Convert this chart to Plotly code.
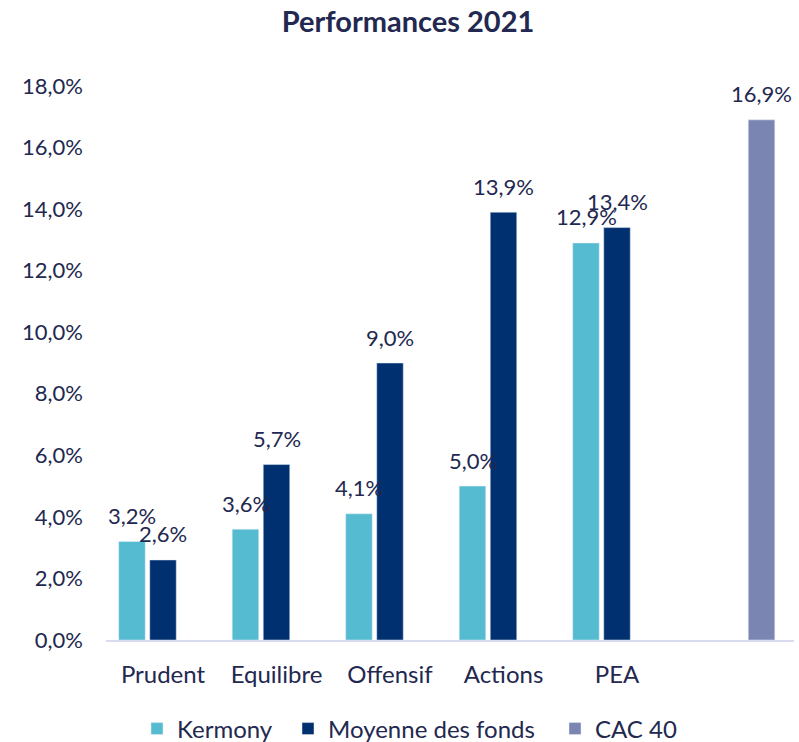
import plotly.graph_objects as go

categories = ["Prudent", "Equilibre", "Offensif", "Actions", "PEA", " "]
kermony = [3.2, 3.6, 4.1, 5.0, 12.9, None]
moyenne = [2.6, 5.7, 9.0, 13.9, 13.4, None]
cac40 = [None, None, None, None, None, 16.9]
y_ticks = [0, 2, 4, 6, 8, 10, 12, 14, 16, 18]

TXT = "#22284F"
FONT = "Lato"


def fmt(v):
    return f"{v:.1f}".replace(".", ",") + "%"


fig = go.Figure()
fig.add_trace(go.Bar(name="Kermony", x=categories, y=kermony, marker_color="#55BBD1",
                     legend="legend"))
fig.add_trace(go.Bar(name="Moyenne des fonds", x=categories, y=moyenne, marker_color="#00306F",
                     legend="legend2"))
fig.add_trace(go.Bar(name="CAC 40", x=categories, y=cac40, marker_color="#7A85B2",
                     legend="legend3"))

for series, shift in ((kermony, -31), (moyenne, 0), (cac40, 31)):
    for c, v in zip(categories, series):
        if v is None:
            continue
        fig.add_annotation(x=c, y=v, text=fmt(v), showarrow=False, xshift=shift,
                           yanchor="middle", yshift=26,
                           font=dict(family=FONT, size=22, color=TXT))

leg_common = dict(orientation="h", xref="container", yref="container",
                  xanchor="left", y=1 - 729 / 742, yanchor="middle",
                  font=dict(family=FONT, size=24, color=TXT), itemwidth=30,
                  bgcolor="rgba(0,0,0,0)")

fig.update_layout(
    width=799, height=742,
    margin=dict(l=106, r=5, t=86, b=102, autoexpand=False),
    paper_bgcolor="white", plot_bgcolor="white",
    barmode="group", bargap=0.18, bargroupgap=0.145,
    title=dict(text="<b>Performances 2021</b>", x=408 / 799, xanchor="center",
               y=1 - 22 / 742, yanchor="middle",
               font=dict(family=FONT, size=29, color=TXT)),
    font=dict(family=FONT, size=22, color=TXT),
    showlegend=True,
    legend=dict(leg_common, x=137 / 799),
    legend2=dict(leg_common, x=288 / 799),
    legend3=dict(leg_common, x=555 / 799),
    xaxis=dict(showline=True, linecolor="#D9DBEE", linewidth=2, ticks="",
               showgrid=False, ticklabelstandoff=12, automargin=False,
               tickfont=dict(family=FONT, size=24, color=TXT)),
    yaxis=dict(range=[0, 18], tickvals=y_ticks, ticktext=[fmt(t) for t in y_ticks],
               showgrid=False, zeroline=False, showline=False, ticks="",
               ticklabelstandoff=22, automargin=False,
               tickfont=dict(family=FONT, size=22, color=TXT)),
)

fig.write_html("out.html")
